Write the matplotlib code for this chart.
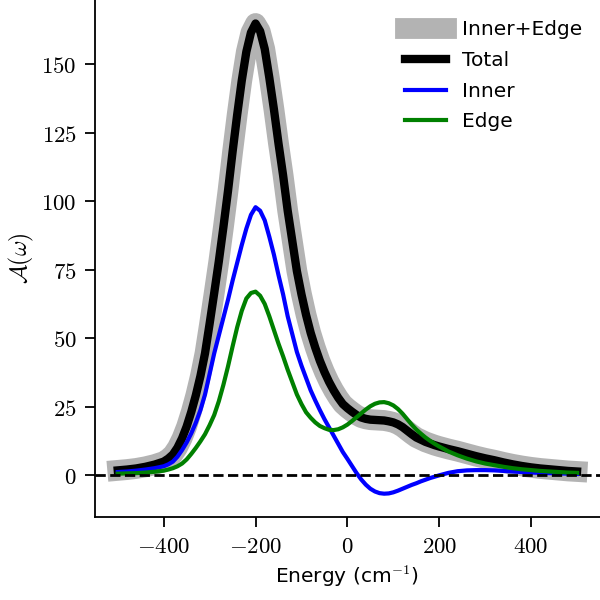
import numpy as np
from matplotlib import pyplot as plt
from matplotlib.ticker import FuncFormatter

plt.rcParams['mathtext.fontset'] = 'cm'
plt.rcParams['font.family'] = 'DejaVu Sans'
plt.rcParams['font.size'] = 14.5

# energia (cm^-1): mais pontos perto do pico
energia = np.concatenate([np.arange(-500, -399, 20),
                          np.arange(-390, 201, 10),
                          np.arange(220, 501, 20)])

inner = [1.2, 1.4, 1.7, 2.1, 2.6, 3.3,
         4.0, 5.0, 6.8, 9.2, 12, 15.3, 19.2, 23.8, 29.5, 37,
         44.5, 51, 57.5, 64, 71, 77.5, 84, 90, 95, 97.8,
         96.5, 93, 87, 80.5, 73, 66, 58, 51.5, 45, 40,
         35.5, 31, 27.3, 23.8, 20.5, 17.5, 14.5, 11.5, 8.5, 6,
         3.4, 0.8, -1.5, -3.4, -4.9, -5.9, -6.5, -6.7, -6.6, -6.2,
         -5.6, -4.9, -4.2, -3.5, -2.9, -2.2, -1.6, -1.0, -0.5, 0,
         0.9, 1.5, 1.8, 1.9, 1.9, 1.8, 1.6, 1.4, 1.2, 1.0, 0.9, 0.8, 0.7, 0.6, 0.5]

edge = [0.6, 0.7, 0.8, 1.0, 1.3, 1.7,
        2.1, 2.6, 3.3, 4.3, 5.8, 7.8, 10, 12.4, 15, 18.3,
        22, 27, 33, 39.7, 47, 54, 60, 64.5, 66.5, 67,
        65.5, 62.5, 58, 53, 48, 43.4, 38.5, 34, 29.5, 26,
        23, 21, 19.3, 18, 17.2, 16.6, 16.5, 16.8, 17.5, 18.5,
        19.8, 21.2, 22.6, 24, 25.2, 26.1, 26.6, 26.7, 26.3, 25.5,
        24.2, 22.5, 20.5, 18.5, 16.7, 15.2, 13.8, 12.6, 11.5, 10.5,
        8.7, 7.3, 6.1, 5.1, 4.3, 3.7, 3.1, 2.6, 2.2, 1.9, 1.6, 1.4, 1.2, 1.0, 0.9]

inner = np.array(inner)
edge = np.array(edge)
total = inner + edge

fig = plt.figure(figsize=(6, 6), dpi=100)
ax = fig.add_axes([0.158, 0.138, 0.842, 0.862])

ax.plot(energia, inner + edge, color='#b3b3b3', lw=15, label='Inner+Edge')
ax.plot(energia, total, color='k', lw=6, label='Total')
ax.plot(energia, inner, color='b', lw=3, label='Inner')
ax.plot(energia, edge, color='g', lw=3, label='Edge')
ax.axhline(0, color='k', ls='--', lw=2)

ax.set_yticks([0, 25, 50, 75, 100, 125, 150])
ax.set_xticks([-400, -200, 0, 200, 400])
ax.xaxis.set_major_formatter(FuncFormatter(lambda v, p: '$%d$' % v))
ax.yaxis.set_major_formatter(FuncFormatter(lambda v, p: '$%d$' % v))
ax.tick_params(length=7, width=1.3, pad=6, labelsize=16.5)

for s in ['top', 'right']:
    ax.spines[s].set_visible(False)
for s in ['left', 'bottom']:
    ax.spines[s].set_linewidth(1.3)

ax.set_xlabel('Energy (cm$^{-1}$)')
ax.set_ylabel(r'$\mathcal{A}(\omega)$', fontsize=17)
ax.legend(loc='upper right', bbox_to_anchor=(1.0, 0.996), frameon=False,
          labelspacing=0.58)

plt.savefig('out.png')
